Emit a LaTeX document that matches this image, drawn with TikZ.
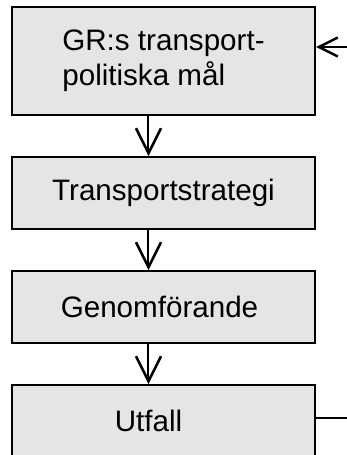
\documentclass[tikz,border=0pt]{standalone}
\usepackage{fontspec}
\setmainfont{Liberation Sans}
\usetikzlibrary{arrows.meta,positioning}

\begin{document}
\begin{tikzpicture}[
    node distance=40pt,
    stage/.style={rectangle, draw, line width=2pt, fill=black!10, minimum width=303pt, minimum height=72pt, font=\fontsize{29.6}{35}\selectfont},
    arrow/.style={-{Straight Barb[length=25pt, width=25pt, line width'=2.5pt]}, line width=2pt},
    feedin/.style={-{Straight Barb[length=19pt, width=19pt, line width'=2.5pt]}, line width=2pt}
  ]

  \clip (-163.5pt,61pt) rectangle (183.5pt,-394pt);

  \node[stage, minimum height=108pt, align=left] (goal) {\raisebox{-3pt}{GR:s transport-}\\\raisebox{-3pt}{politiska mål}};
  \node[stage, below=of goal] (strategy) {Transportstrategi};
  \node[stage, below=of strategy] (implement) {Genomförande\hspace*{8pt}};
  \node[stage, below=of implement] (outcome) {Utfall\hspace*{30pt}};

  % feedback loop, cut at the edge
  \coordinate (fbin) at ([xshift=40pt, yshift=14pt]goal.east);
  \coordinate (fbout) at ([xshift=40pt, yshift=3pt]outcome.east);

  \draw[arrow] ([xshift=-15pt]goal.south) -- ([xshift=-15pt]strategy.north);
  \draw[arrow] ([xshift=-15pt]strategy.south) -- ([xshift=-15pt]implement.north);
  \draw[arrow] ([xshift=-15pt]implement.south) -- ([xshift=-15pt]outcome.north);
  \draw[feedin] (fbin) -- ([yshift=14pt]goal.east);
  \draw[line width=2pt] ([yshift=3pt]outcome.east) -- (fbout);

\end{tikzpicture}
\end{document}
